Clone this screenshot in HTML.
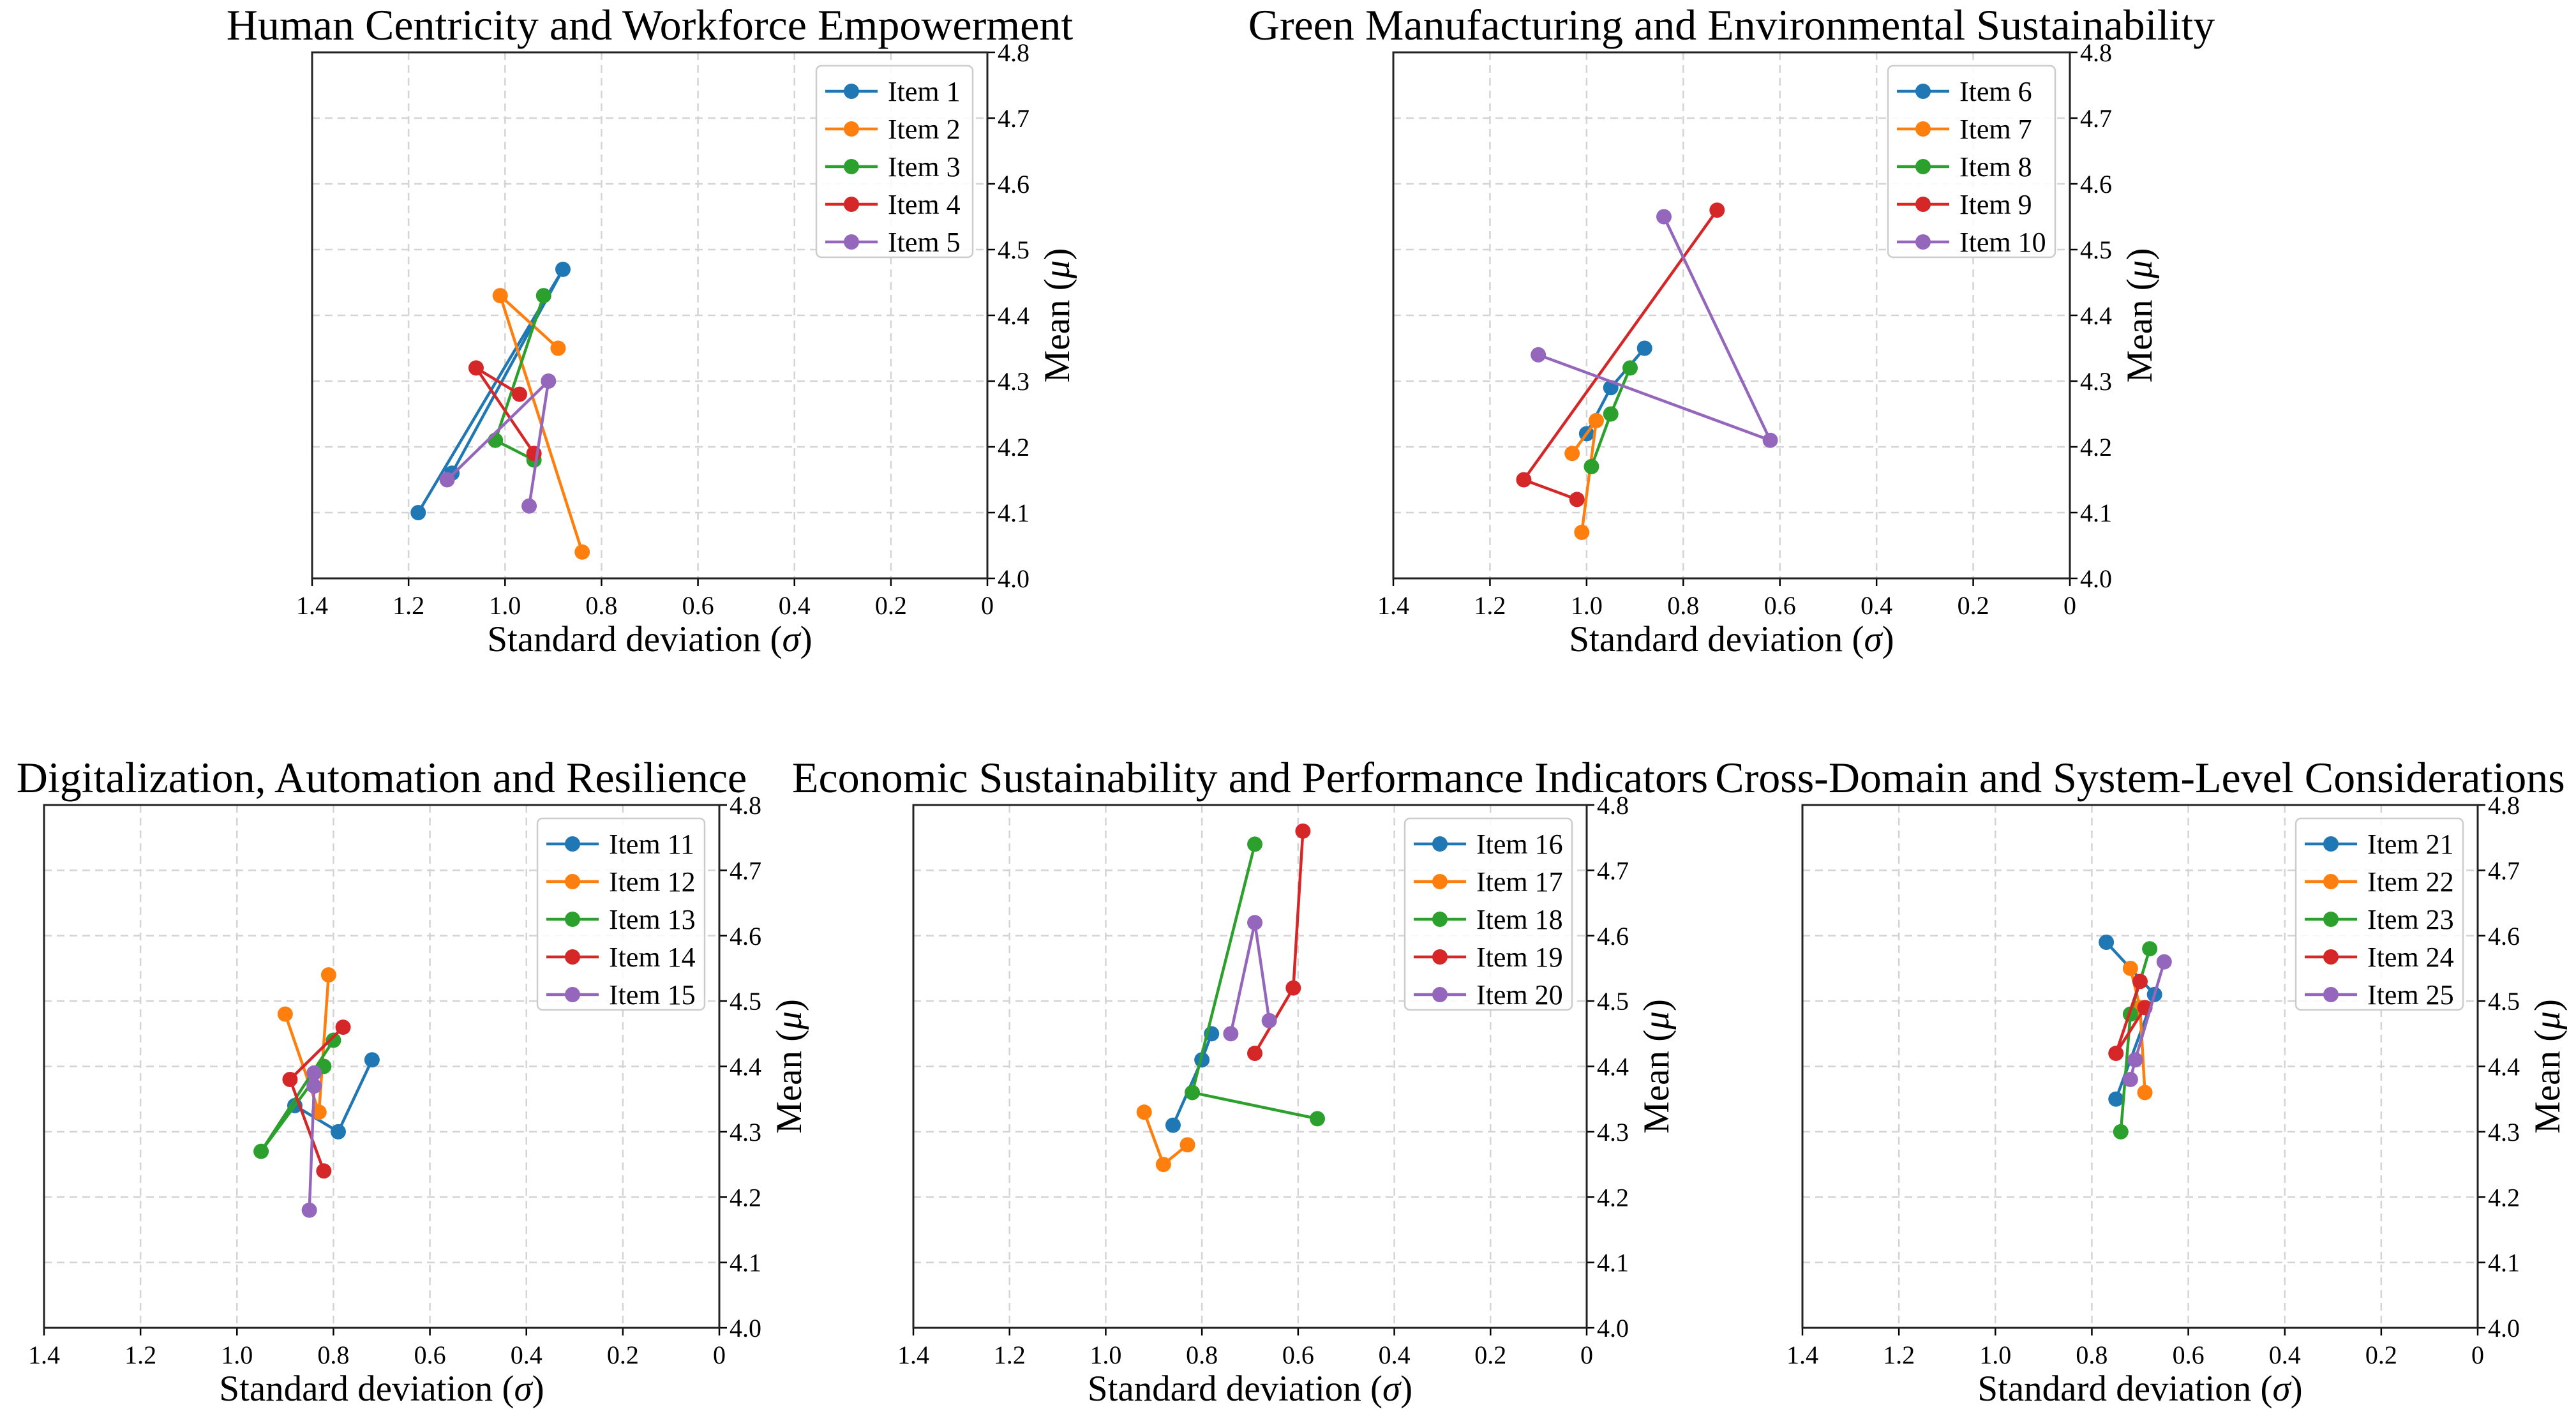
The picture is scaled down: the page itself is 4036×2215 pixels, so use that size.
<!DOCTYPE html>
<html><head><meta charset="utf-8"><style>
html,body{margin:0;padding:0;background:#fff;}
svg{display:block;font-family:"Liberation Serif",serif;}
</style></head><body>
<svg id="c" width="4036" height="2215" viewBox="0 0 4036 2215"></svg>
<script>
const titles = ["Human Centricity and Workforce Empowerment","Green Manufacturing and Environmental Sustainability","Digitalization, Automation and Resilience","Economic Sustainability and Performance Indicators","Cross-Domain and System-Level Considerations"];
const itemNames = [["Item 1","Item 2","Item 3","Item 4","Item 5"],["Item 6","Item 7","Item 8","Item 9","Item 10"],["Item 11","Item 12","Item 13","Item 14","Item 15"],["Item 16","Item 17","Item 18","Item 19","Item 20"],["Item 21","Item 22","Item 23","Item 24","Item 25"]];
const sigmaValues = [
 [[1.18,0.88,1.11],[0.89,1.01,0.84],[0.92,1.02,0.94],[0.97,1.06,0.94],[1.12,0.91,0.95]],
 [[1.00,0.95,0.88],[1.03,0.98,1.01],[0.99,0.95,0.91],[0.73,1.13,1.02],[0.84,0.62,1.10]],
 [[0.72,0.79,0.88],[0.90,0.83,0.81],[0.82,0.95,0.80],[0.78,0.89,0.82],[0.84,0.84,0.85]],
 [[0.86,0.80,0.78],[0.92,0.88,0.83],[0.69,0.82,0.56],[0.69,0.61,0.59],[0.74,0.69,0.66]],
 [[0.77,0.67,0.75],[0.72,0.70,0.69],[0.68,0.72,0.74],[0.70,0.75,0.69],[0.65,0.71,0.72]]
];
const meanValues = [
 [[4.10,4.47,4.16],[4.35,4.43,4.04],[4.43,4.21,4.18],[4.28,4.32,4.19],[4.15,4.30,4.11]],
 [[4.22,4.29,4.35],[4.19,4.24,4.07],[4.17,4.25,4.32],[4.56,4.15,4.12],[4.55,4.21,4.34]],
 [[4.41,4.30,4.34],[4.48,4.33,4.54],[4.40,4.27,4.44],[4.46,4.38,4.24],[4.39,4.37,4.18]],
 [[4.31,4.41,4.45],[4.33,4.25,4.28],[4.74,4.36,4.32],[4.42,4.52,4.76],[4.45,4.62,4.47]],
 [[4.59,4.51,4.35],[4.55,4.49,4.36],[4.58,4.48,4.30],[4.53,4.42,4.49],[4.56,4.41,4.38]]
];
const xTicks = [1.4,1.2,1.0,0.8,0.6,0.4,0.2,0];
const xTickLabels = ["1.4","1.2","1.0","0.8","0.6","0.4","0.2","0"];
const yTicks = [4.0,4.1,4.2,4.3,4.4,4.5,4.6,4.7,4.8];
const yTickLabels = ["4.0","4.1","4.2","4.3","4.4","4.5","4.6","4.7","4.8"];
const colors = ["#1f77b4","#ff7f0e","#2ca02c","#d62728","#9467bd"];
const boxes = [[489,82,1547,906],[2183,82,3243,906],[69,1261,1127,2080],[1431,1261,2486,2080],[2824,1261,3882,2080]];
const NS="http://www.w3.org/2000/svg";
const svg=document.getElementById('c');
function mk(tag,attrs,parent,txt){const e=document.createElementNS(NS,tag);for(const k in attrs)e.setAttribute(k,attrs[k]);if(txt!==undefined)e.textContent=txt;parent.appendChild(e);return e;}
boxes.forEach((b,p)=>{
 const [L,T,R,B]=b;
 const xs=v=>L+(1.4-v)/1.4*(R-L);
 const ys=v=>B-(v-4.0)/0.8*(B-T);
 const g=mk('g',{},svg);
 
 
 const t=mk('text',{x:(L+R)/2,y:T-20,'text-anchor':'middle','font-size':68},g,titles[p]);
 
 
 xTicks.forEach((v,i)=>{
  const x=xs(v);
  if(i>0&&i<xTicks.length-1){const gl=mk('line',{x1:x,y1:T,x2:x,y2:B,stroke:'#d4d4d4','stroke-width':2.5,'stroke-dasharray':'12,8'},g);
   }
  mk('line',{x1:x,y1:B,x2:x,y2:B+12,stroke:'#000','stroke-width':2.5},g);
  const tl=mk('text',{x:x,y:B+56,'text-anchor':'middle','font-size':40},g,xTickLabels[i]);
  
 });
 yTicks.forEach((v,i)=>{
  const y=ys(v);
  if(i>0&&i<yTicks.length-1){const gl=mk('line',{x1:L,y1:y,x2:R,y2:y,stroke:'#d4d4d4','stroke-width':2.5,'stroke-dasharray':'12,8'},g);
   }
  mk('line',{x1:R,y1:y,x2:R+12,y2:y,stroke:'#000','stroke-width':2.5},g);
  const tl=mk('text',{x:R+16,y:y+14,'text-anchor':'start','font-size':40},g,yTickLabels[i]);
  
 });
 const fr=mk('rect',{x:L,y:T,width:R-L,height:B-T,fill:'none',stroke:'#222','stroke-width':3},g);
 
 const xl=mk('text',{x:(L+R)/2,y:B+114,'text-anchor':'middle','font-size':57},g);
 xl.innerHTML='Standard deviation (<tspan font-style="italic">σ</tspan>)';
 
 const yl=mk('text',{x:0,y:0,'text-anchor':'middle','font-size':57,transform:`translate(${R+128},${(T+B)/2}) rotate(-90)`},g);
 yl.innerHTML='Mean (<tspan font-style="italic">μ</tspan>)';
 
 sigmaValues[p].forEach((sv,s)=>{
  const mv=meanValues[p][s];
  const sg=mk('g',{},g);
  
  
  const pts=sv.map((v,k)=>xs(v)+','+ys(mv[k])).join(' ');
  const pl=mk('polyline',{points:pts,fill:'none',stroke:colors[s],'stroke-width':4.5},sg);
  
  sv.forEach((v,k)=>{const c=mk('circle',{cx:xs(v),cy:ys(mv[k]),r:12,fill:colors[s]},sg);
   });
 });
 const lw=p===0?245:262;
 const lg=mk('g',{},g);
 
 const lx=R-23-lw, ly=T+21;
 mk('rect',{x:lx,y:ly,width:lw,height:300,rx:8,fill:'#fff','fill-opacity':0.85,stroke:'#ccc','stroke-width':2.5},lg);
 itemNames[p].forEach((n,s)=>{
  const yy=ly+40+s*59;
  const e=mk('g',{},lg);
  
  mk('line',{x1:lx+14,y1:yy,x2:lx+96,y2:yy,stroke:colors[s],'stroke-width':4.5},e);
  mk('circle',{cx:lx+55,cy:yy,r:12,fill:colors[s]},e);
  mk('text',{x:lx+112,y:yy+15,'font-size':44},e,n);
 });
});
</script>
</body></html>
